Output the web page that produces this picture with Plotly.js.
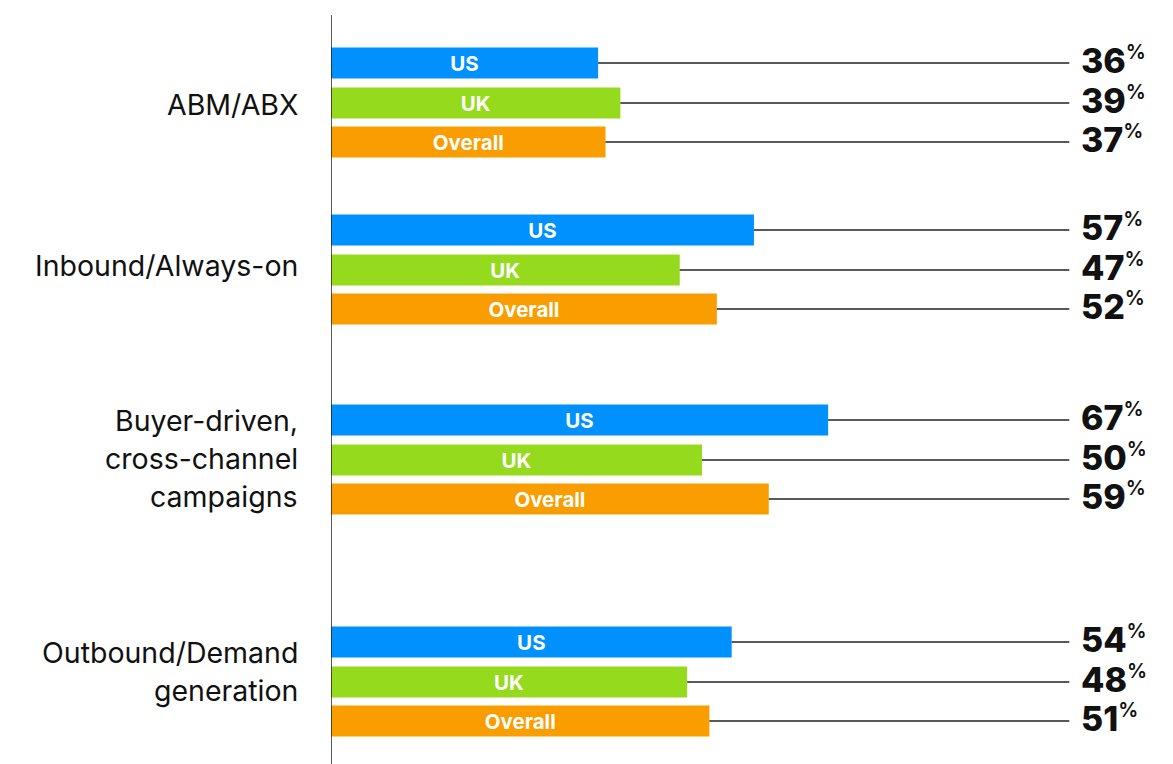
<!DOCTYPE html>
<html><head><meta charset="utf-8">
<script src="https://cdn.plot.ly/plotly-3.0.1.min.js"></script>
<style>html,body{margin:0;padding:0;background:#fff}#chart{width:1173px;height:764px}</style>
</head><body><div id="chart"></div>
<script>
// Data
const categories = ["ABM/ABX", "Inbound/Always-on", "Buyer-driven,<br>cross-channel<br>campaigns", "Outbound/Demand<br>generation"];
const seriesNames = ["US", "UK", "Overall"];
const usValues = [36, 57, 67, 54];
const ukValues = [39, 47, 50, 48];
const overallValues = [37, 52, 59, 51];

// Layout (pixel-based y axis)
const groupCenters = [103, 270, 460, 682];
const labelCenters = [104, 265, 458, 671];
const barOffsets = [-40, 0, 39];
const barColors = ["#0091FF", "#95DA1D", "#F99D00"];
const LINE_END = 99.5;
const W = 1173, H = 764, LEFT = 331, PX_PER_UNIT = 7.42;
const XMAX = (W - LEFT) / PX_PER_UNIT;

const allValues = [usValues, ukValues, overallValues];
const traces = [];
const annotations = [];

// connector lines
allValues.forEach((vals, s) => {
  vals.forEach((v, g) => {
    const y = groupCenters[g] + barOffsets[s];
    traces.push({type: "scatter", mode: "lines", x: [v, LINE_END], y: [y, y],
      line: {color: "#222", width: 1.5}, hoverinfo: "skip", showlegend: false});
  });
});

allValues.forEach((vals, s) => {
  traces.push({
    type: "bar", orientation: "h", name: seriesNames[s],
    x: vals, y: groupCenters.map(c => c + barOffsets[s]),
    width: 31, marker: {color: barColors[s]},
    text: vals.map(() => seriesNames[s]), textposition: "inside",
    insidetextanchor: "middle", constraintext: "none",
    textfont: {color: "#fff", size: 20.5, family: "Inter", weight: "bold"},
    hoverinfo: "skip", showlegend: false
  });
  vals.forEach((v, g) => {
    annotations.push({
      xref: "paper", yref: "y", x: (1079 - LEFT) / (W - LEFT), y: groupCenters[g] + barOffsets[s],
      xanchor: "left", yanchor: "middle", showarrow: false,
      text: v + "<sup><span style='font-size:20px;font-weight:600'>%</span></sup>",
      font: {family: "Inter", size: 34, color: "#111", weight: 800}, yshift: 3
    });
  });
});

// category labels (one annotation per line for custom line spacing)
categories.forEach((c, g) => {
  const lines = c.split("<br>");
  lines.forEach((ln, i) => {
    annotations.push({
      xref: "paper", yref: "y", x: 0, xshift: -31, y: labelCenters[g],
      yshift: -((i - (lines.length - 1) / 2) * 38),
      xanchor: "right", yanchor: "middle", showarrow: false, text: ln,
      font: {family: "Inter", size: 28.5, color: "#111"}
    });
  });
});

const layout = {
  width: W, height: H,
  margin: {l: LEFT, r: 0, t: 0, b: 0},
  paper_bgcolor: "#fff", plot_bgcolor: "#fff",
  barmode: "overlay",
  xaxis: {range: [0, XMAX], showgrid: false, zeroline: false, showline: false, showticklabels: false, ticks: ""},
  yaxis: {range: [H, 0], showgrid: false, zeroline: false, showline: false, showticklabels: false, ticks: ""},
  shapes: [{type: "line", xref: "x", yref: "y", x0: 0, x1: 0, y0: 15, y1: H, line: {color: "#222", width: 1.5}}],
  annotations: annotations
};
Plotly.newPlot("chart", traces, layout, {displayModeBar: false, staticPlot: true});
</script></body></html>
